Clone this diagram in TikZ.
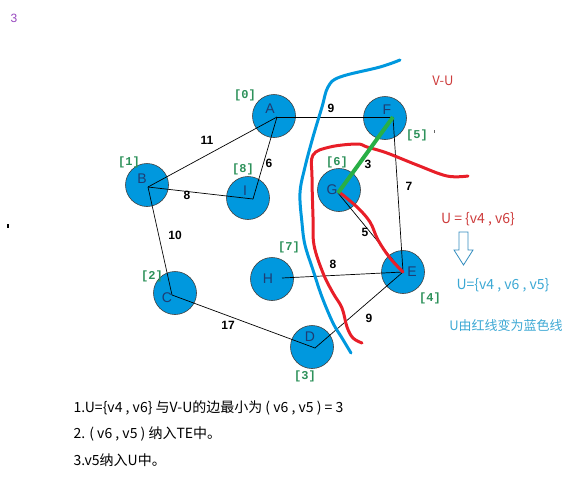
\documentclass[tikz,border=0pt]{standalone}
\usepackage{fontspec}
\setsansfont{Liberation Sans}
\setmonofont{Liberation Mono}
\newfontfamily\cjk{Noto Sans CJK SC}

\definecolor{paintblue}{RGB}{0,152,222}
\definecolor{paintred}{RGB}{232,30,40}
\definecolor{paintgreen}{RGB}{40,175,70}
\definecolor{letterblue}{RGB}{30,60,115}
\definecolor{idxgreen}{RGB}{45,145,90}
\definecolor{notered}{RGB}{205,60,60}
\definecolor{noteblue}{RGB}{60,168,212}
\definecolor{arrowblue}{RGB}{50,140,190}
\definecolor{stepviolet}{RGB}{150,70,190}

\begin{document}
\begin{tikzpicture}[x=1pt, y=-1pt,
	vertex/.style={circle, draw=black!75, line width=0.6pt, fill=paintblue,
		minimum size=43pt, inner sep=0pt},
	letter/.style={inner sep=0pt, text=letterblue,
		font=\sffamily\fontsize{14}{14}\selectfont},
	link/.style={line width=0.7pt},
	wt/.style={font=\sffamily\bfseries\fontsize{12}{12}\selectfont},
	idx/.style={text=idxgreen, font=\ttfamily\bfseries\fontsize{12}{12}\selectfont},
	stroke/.style={line width=3pt, line cap=round, line join=round},
	note/.style={font=\cjk\fontsize{14}{14}\selectfont, anchor=west}]
	\useasboundingbox (0,0) rectangle (586,480);

	% step number
	\node[text=stepviolet, font=\sffamily\fontsize{12}{12}\selectfont] (step) at (14,18) {3};

	% vertices: name / centre / letter offset / hub offset
	\foreach \n/\x/\y/\lx/\ly/\hx/\hy in {A/274/116/-4/-7/3/1, B/147/185/-5/-6/1/2,
		I/248/198/-3/-7/5/1, F/385/118/2/-8/8/-1, G/339/190/-7/0/-1/3,
		H/272/279/-4/0/10/-1, E/403/272/9/0/0/0, C/175/293/-8/5/-3/2,
		D/312/347/-2/-10/3/1} {
		\node[vertex, label={[letter, shift={(\lx,\ly)}]center:\n}] (\n) at (\x,\y) {};
		\coordinate (\n-hub) at ([shift={(\hx,\hy)}]\n.center);
	}

	% index labels
	\foreach \n/\x/\y in {0/245/95, 1/129/162, 8/243/169, 5/417/135,
		6/337/162, 7/289/247, 2/152/276, 4/430/298, 3/305/376} {
		\node[idx] (idx-\n) at (\x,\y) {[\n]};
	}

	% edges with weights
	\foreach \a/\b/\w/\x/\y in {A/B/11/207/140, A/I/6/269/163, B/I/8/187/195,
		A/F/9/331/108, B/C/10/175/235, F/E/7/409/186, G/E/5/365/232,
		H/E/8/333/264, C/D/17/228/325, D/E/9/369/318} {
		\draw[link] (\a-hub) -- (\b-hub);
		\node[wt] (w-\a\b) at (\x,\y) {\w};
	}
	\node[wt] (w-FG) at (368,164) {3};

	% blue line (new U)
	\draw[stroke, paintblue] plot[smooth, tension=0.6] coordinates {
		(400,60) (380,67) (340,77) (328,87) (322,107) (313,137) (305,167)
		(300,193) (302,223) (305,245) (313,270) (322,297) (333,323)
		(342,338) (351,353)};

	% red line (old U)
	\draw[stroke, paintred] plot[smooth, tension=0.6] coordinates {
		(468,176) (447,176) (417,165) (387,153) (367,147) (357,144)
		(330,147) (313,155) (312,177) (313,217) (314,245) (323,273)
		(333,293) (342,308) (347,327) (353,338) (362,343)};
	\draw[stroke, paintred] plot[smooth, tension=0.6] coordinates {
		(339,192) (357,207) (370,222) (378,240) (390,258) (403,272)};

	% chosen edge
	\draw[line width=4pt, paintgreen] (G-hub) -- (F-hub);

	% stray marks
	\fill[black] (7,224) rectangle (8.5,228);
	\fill[black!60] (434,130) rectangle (435,133);

	% notes on the right
	\node[text=notered, font=\cjk\fontsize{13}{13}\selectfont] (vu) at (443,81) {V-U};
	\node[text=notered, font=\cjk\fontsize{14}{14}\selectfont] (u-old) at (478,219) {U = \{v4 , v6\}};
	\draw[arrowblue, line width=0.8pt, line join=miter]
		(459,232) -- (468,232) -- (468,250) -- (473,250) -- (463.5,265)
		-- (454,250) -- (459,250) -- cycle;
	\node[text=noteblue, font=\cjk\fontsize{14}{14}\selectfont] (u-new) at (503,285) {U=\{v4 , v6 , v5\}};
	\node[text=noteblue, font=\cjk\fontsize{13}{13}\selectfont] (u-txt) at (506,326) {U由红线变为蓝色线};

	% steps below
	\node[note] (s1) at (70,408) {1.U=\{v4 , v6\} 与V-U的边最小为 ( v6 , v5 ) = 3};
	\node[note] (s2) at (70,434) {2. ( v6 , v5 ) 纳入TE中。};
	\node[note] (s3) at (70,460) {3.v5纳入U中。};
\end{tikzpicture}
\end{document}
